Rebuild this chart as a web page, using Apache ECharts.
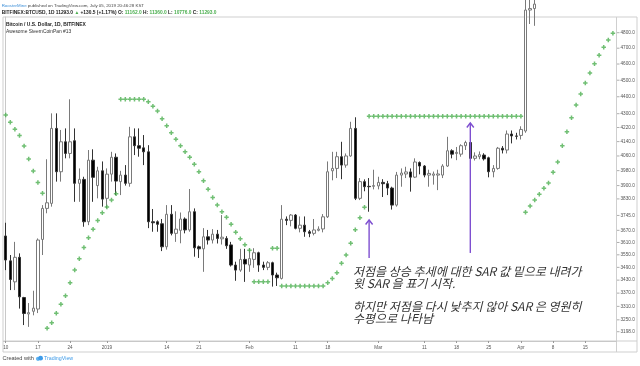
<!DOCTYPE html>
<html><head><meta charset="utf-8">
<script src="https://cdn.jsdelivr.net/npm/echarts@6/dist/echarts.min.js"></script>
<style>html,body{margin:0;padding:0;background:#fff}#c{width:640px;height:366px}</style>
</head><body><div id="c"></div>
<script>
// ---------- categories (daily bars, Dec 10 2018 .. Apr 22 2019) ----------
const startDate = '2018-12-10';
const dayCount = 134;
const dates = [];
for (let k = 0; k < dayCount; k++) {
  const d = new Date(Date.UTC(2018, 11, 10 + k));
  dates.push(d.toISOString().slice(0, 10));
}
// ---------- OHLC (BITFINEX:BTCUSD 1D) ----------
const open = [3642,3521,3422,3538,3350,3276,3288,3298,3625,3781, 3807,4215,3974,4139,4074,4145,3912,3933,3713,4037, 3900,3979,3833,3961,4053,3921,3956,3912,4167,4117, 4105,4083,3713,3713,3703,3589,3751,3655,3670,3727, 3672,3764,3589,3579,3638,3622,3651,3628,3630,3598, 3501,3477,3528,3501,3528,3560,3501,3490,3512,3454, 3438,3726,3720,3747,3680,3696,3663,3655,3670,3677, 3738,3979,3992,4056,4010,4060,4215,3833,3921,3896, 3896,3898,3917,3910,3887,3798,3956,3962,3973,3945, 4024,4005,3956,3955,3956,3956,4005,4089,4074,4070, 4117,4135,4047,4056,4065,4050,3974,3992,4103,4093, 4183,4172,4175,4200,4950,4960];
const high = [3708,3549,3613,3557,3353,3325,3381,3630,3798,4042, 4302,4302,4206,4215,4385,4215,3992,3947,4093,4097, 4001,4030,3992,4083,4074,3979,4010,4224,4215,4215, 4177,4120,3778,3720,3727,3798,3798,3766,3760,3735, 3882,3781,3595,3681,3672,3676,3672,3747,3641,3613, 3517,3579,3579,3582,3582,3565,3517,3520,3517,3465, 3798,3740,3752,3752,3740,3740,3672,3727,3690,3752, 4030,4083,4083,4139,4074,4253,4279,3940,3933,3940, 3985,3947,3934,3925,3894,3973,3992,4001,3992,4047, 4030,4010,3985,3975,3985,4015,4167,4097,4110,4125, 4145,4140,4080,4085,4075,4056,4010,4110,4115,4203, 4203,4190,4227,5100,5300,5100];
const low = [3477,3384,3384,3300,3227,3219,3270,3280,3549,3756, 3790,3921,3921,4047,4047,3815,3815,3688,3696,3815, 3833,3790,3781,3921,3850,3850,3900,3894,4065,4056, 4010,3681,3663,3663,3568,3575,3645,3613,3606,3655, 3663,3541,3535,3469,3600,3605,3605,3600,3579,3494, 3427,3469,3422,3469,3488,3469,3477,3477,3400,3403, 3433,3696,3690,3675,3660,3638,3636,3645,3665,3660, 3732,3928,3940,3934,3996,4056,3824,3824,3870,3764, 3880,3880,3840,3850,3775,3790,3894,3940,3868,3940, 3960,3944,3894,3905,3876,3940,4000,4047,4037,4056, 4093,4037,4035,4042,4035,3944,3944,3985,4074,4074, 4130,4152,4152,4190,4857,4845];
const close = [3525,3433,3538,3353,3278,3282,3302,3622,3781,3810, 4215,3974,4139,4074,4139,3912,3933,3713,4037,3944, 3979,3829,3961,4053,3924,3956,3912,4167,4117,4103, 4083,3713,3708,3700,3589,3751,3655,3676,3727,3672, 3764,3584,3579,3638,3622,3651,3630,3636,3594,3501, 3477,3528,3506,3532,3560,3501,3490,3512,3454,3441, 3726,3720,3747,3680,3696,3663,3655,3672,3676,3738, 3974,3992,4056,4010,4060,4215,3833,3921,3894,3894, 3900,3917,3910,3887,3798,3956,3967,3973,3945,4027, 4005,3956,3965,3962,3962,4005,4089,4070,4080,4117, 4135,4047,4060,4067,4044,3974,3992,4103,4093,4183, 4172,4170,4209,4950,4960,4990];
// ---------- Parabolic SAR ----------
const sar = [4292,4250,4210,4175,4115,4044,3978,3917,3860,
 3213,3237,3279,3320,3358,3418,3477,3531,3585,3633,3676,3719,3759,3788,3825,3857,
 4385,4385,4385,4385,4385,4385,
 4370,4343,4316,4271,4230,4190,4153,4117,4084,4053,4015,3974,3926,3881,3838,3798,3764,3736,3700,3660,3628,3599,3572,
 3422,3422,3422,3422,
 3582,3582,
 3403,3403,3403,3403,3403,3403,3403,3403,3403,3403,
 3418,3438,3465,3509,3549,3606,3673,3733,3787,
 4285,4285,4285,4285,4285,4285,4285,4285,4285,4285,4285,4285,4285,4285,4285,4285,4285,
 4285,4285,4285,4285,4285,4285,4285,4285,4285,4285,4285,4285,4285,4285,4285,4285,4285,
 3761,3793,3825,3854,3886,3914,3971,4027,4117,4196,4277,4351,4417,4483,4544,4602,4655,4706,4752,4796,4839];
// ---------- axis ticks ----------
const xTickDates = ['2018-12-10','2018-12-17','2018-12-24','2019-01-01','2019-01-14','2019-01-21','2019-02-01','2019-02-11','2019-02-18','2019-03-01','2019-03-11','2019-03-18','2019-03-25','2019-04-01','2019-04-08','2019-04-15'];
const xTickLabels = ['10','17','24','2019','14','21','Feb','11','18','Mar','11','18','25','Apr','8','15'];
const yTickValues = [4800,4700,4600,4500,4400,4300,4220,4140,4060,3980,3900,3830,3745,3670,3610,3550,3490,3430,3370,3310,3250,3198];
// ---------- annotations ----------
const arrowDates = ['2019-02-27','2019-03-21'];
const arrowFrom = [3535, 3559];
const arrowTo = [3722, 4246];
const noteBlock1 = ['저점을 상승 추세에 대한 SAR 값 밑으로 내려가','윗 SAR 을 표기 시작.'];
const noteBlock2 = ['하지만 저점을 다시 낮추지 않아 SAR 은 영원히','수평으로 나타남'];

const candleData = open.map((o, i) => [i, o, close[i], low[i], high[i]]);
const sarData = sar.map((v, i) => [i, v]);
const xTickIdx = xTickDates.map(d => dates.indexOf(d));
const xLabelMap = {}; xTickIdx.forEach((v, k) => { xLabelMap[v] = xTickLabels[k]; });

const chart = echarts.init(document.getElementById('c'), null, {renderer: 'canvas'});
const LAT = '"Liberation Sans", Arial, sans-serif';
chart.setOption({
  animation: false,
  backgroundColor: '#ffffff',
  grid: {left: 3.4, top: 17, width: 613.1, height: 324, outerBoundsMode: 'none', containLabel: false},
  xAxis: {
    type: 'value', min: -0.5, max: 132.78,
    axisLine: {show: true, lineStyle: {color: '#c8c8c8', width: 1}},
    axisTick: {show: true, customValues: xTickIdx, length: 2, lineStyle: {color: '#999'}},
    axisLabel: {customValues: xTickIdx, formatter: v => xLabelMap[v] || '', fontSize: 4.6, color: '#555', margin: 4, fontFamily: 'Liberation Sans'},
    splitLine: {show: false}
  },
  yAxis: {
    type: 'log', logBase: 10, position: 'right', min: 3157.9, max: 4903.4,
    axisLine: {show: true, lineStyle: {color: '#c8c8c8', width: 1}},
    axisTick: {show: false}, axisLabel: {show: false}, splitLine: {show: false}, minorSplitLine: {show: false}
  },
  series: [
    {
      type: 'candlestick', data: candleData, barWidth: 3, clip: true,
      itemStyle: {color: '#ffffff', color0: '#000000', borderColor: '#7a7a7a', borderColor0: '#333333', borderWidth: 1}
    },
    {
      type: 'scatter', data: sarData, clip: true, symbol: 'path://M2,0H4V2H6V4H4V6H2V4H0V2H2Z', symbolSize: 4.5,
      itemStyle: {color: '#4caf50'}, z: 5
    }
  ]
});

const g = [];
// pane border
g.push({type: 'rect', shape: {x: 3, y: 17, width: 634, height: 335}, style: {fill: null, stroke: '#cfcfcf', lineWidth: 1}, silent: true});
g.push({type: 'line', shape: {x1: 616.5, y1: 17, x2: 616.5, y2: 352}, style: {stroke: '#cfcfcf', lineWidth: 1}});
g.push({type: 'line', shape: {x1: 3, y1: 341, x2: 637, y2: 341}, style: {stroke: '#cfcfcf', lineWidth: 1}});
// price labels on the right
yTickValues.forEach(v => {
  const y = chart.convertToPixel({yAxisIndex: 0}, v);
  g.push({type: 'line', shape: {x1: 617, y1: y, x2: 619.5, y2: y}, style: {stroke: '#999', lineWidth: 0.8}});
  g.push({type: 'text', x: 620.5, y: y, style: {text: v.toFixed(1), font: '4.7px ' + LAT, fill: '#555', align: 'left', verticalAlign: 'middle'}});
});
// header
g.push({type: 'text', x: 1.7, y: 5.3, style: {
  text: '{a|RoosterMine}{b| published on TradingView.com, July 05, 2019 20:46:28 KST}',
  verticalAlign: 'middle', rich: {a: {fill: '#3d8fd8', font: '4.4px ' + LAT}, b: {fill: '#444', font: '4.4px ' + LAT}}}});
g.push({type: 'text', x: 1.7, y: 12.3, style: {
  text: '{k|BITFINEX:BTCUSD, 1D 11293.0 }{g|▲}{k| +130.5 (+1.17%) O: }{g|11162.0}{k| H: }{g|11360.0}{k| L: }{g|10776.0}{k| C: }{g|11293.0}',
  verticalAlign: 'middle', rich: {k: {fill: '#222', font: 'bold 4.85px ' + LAT}, g: {fill: '#4caf50', font: 'bold 4.85px ' + LAT}}}});
g.push({type: 'text', x: 6, y: 24.5, style: {text: 'Bitcoin / U.S. Dollar, 1D, BITFINEX', font: 'bold 4.95px ' + LAT, fill: '#222', verticalAlign: 'middle'}});
g.push({type: 'text', x: 6, y: 32, style: {text: 'Awesome SteemCoinPan #13', font: '4.9px ' + LAT, fill: '#333', verticalAlign: 'middle'}});
// footer
g.push({type: 'text', x: 2.5, y: 358.5, style: {text: 'Created with', font: '5.6px ' + LAT, fill: '#444', verticalAlign: 'middle'}});
g.push({type: 'circle', shape: {cx: 38, cy: 358.8, r: 2.1}, style: {fill: '#5fb3f0'}});
g.push({type: 'circle', shape: {cx: 40.6, cy: 358.2, r: 2.4}, style: {fill: '#3d9be9'}});
g.push({type: 'text', x: 44, y: 358.5, style: {text: 'TradingView', font: '5.3px ' + LAT, fill: '#3d9be9', verticalAlign: 'middle'}});
// purple arrows
arrowDates.forEach((d, k) => {
  const i = dates.indexOf(d);
  const p1 = chart.convertToPixel({xAxisIndex: 0, yAxisIndex: 0}, [i, arrowFrom[k]]);
  const p2 = chart.convertToPixel({xAxisIndex: 0, yAxisIndex: 0}, [i, arrowTo[k]]);
  g.push({type: 'line', shape: {x1: p1[0], y1: p1[1], x2: p2[0], y2: p2[1]}, style: {stroke: '#7e4fd0', lineWidth: 1.4}, z: 10});
  g.push({type: 'polyline', shape: {points: [[p2[0] - 3.5, p2[1] + 4.5], [p2[0], p2[1]], [p2[0] + 3.5, p2[1] + 4.5]]}, style: {stroke: '#7e4fd0', lineWidth: 1.4, fill: null}, z: 10});
});
// note text
const NOTE_FONT = 'italic 12px "Noto Sans CJK KR", sans-serif';
g.push({type: 'text', x: 353, y: 264.6, z: 10, style: {text: noteBlock1.join('\n'), font: NOTE_FONT, fill: '#333', lineHeight: 12.8, verticalAlign: 'top'}});
g.push({type: 'text', x: 353, y: 299.6, z: 10, style: {text: noteBlock2.join('\n'), font: NOTE_FONT, fill: '#333', lineHeight: 12.8, verticalAlign: 'top'}});

chart.setOption({graphic: g});
</script></body></html>
